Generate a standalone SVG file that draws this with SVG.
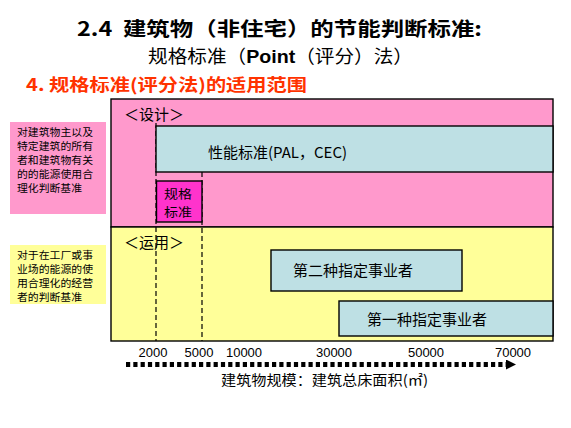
<svg xmlns="http://www.w3.org/2000/svg" width="571" height="428" viewBox="0 0 571 428">
<style>
text{font-family:"Noto Sans CJK SC","Liberation Sans",sans-serif;fill:#000}
.box{stroke:#000;stroke-width:1.4}
.pink{fill:#FF99CC}
.yel{fill:#FFFF99}
.blue{fill:#BEE0E4}
.mag{fill:#FF33CC}
.lbl{font-size:15px}
.small{font-size:10px}
.num{font-family:"Liberation Sans",Arial,sans-serif;font-size:13px;text-anchor:middle}
.dash{stroke:#000;stroke-width:1.2;stroke-dasharray:5 3;fill:none}
</style>
<defs>
<marker id="ah" markerWidth="10" markerHeight="10" refX="0" refY="5" orient="auto" markerUnits="userSpaceOnUse" viewBox="0 0 10 10">
<path d="M0,0 L10,5 L0,10 z" fill="#000"/>
</marker>
</defs>
<rect width="571" height="428" fill="#fff"/>
<g id="title">
<text x="77" y="35.5" font-size="19.5" font-weight="700" textLength="405" lengthAdjust="spacingAndGlyphs">2.4&#160;&#160;建筑物（非住宅）的节能判断标准:</text>
<text x="148" y="63" font-size="18.5" textLength="265" lengthAdjust="spacingAndGlyphs">规格标准（<tspan font-family="Liberation Sans,Arial,sans-serif" font-weight="700">Point</tspan>（评分）法）</text>
<text x="26" y="91" font-size="17" font-weight="700" style="fill:#FF3300" textLength="281" lengthAdjust="spacingAndGlyphs">4. 规格标准(评分法)的适用范围</text>
</g>
<g id="design-area">
<rect class="box pink" x="111" y="99" width="442" height="128"/>
<text class="lbl" x="124" y="120">＜设计＞</text>
</g>
<g id="operation-area">
<rect class="box yel" x="111" y="227" width="442" height="114"/>
<text class="lbl" x="124" y="248">＜运用＞</text>
</g>
<g id="connectors">
<line class="dash" x1="156" y1="123" x2="156" y2="341"/>
<line class="dash" x1="202" y1="172" x2="202" y2="341"/>
<line x1="126" y1="364.5" x2="506" y2="364.5" stroke="#000" stroke-width="5" stroke-dasharray="4.2 3.1" marker-end="url(#ah)"/>
</g>
<g id="design-note">
<rect class="pink" x="10" y="122" width="96" height="92"/>
<text class="small" x="17" y="136" textLength="76" lengthAdjust="spacingAndGlyphs">对建筑物主以及</text>
<text class="small" x="17" y="150" textLength="76" lengthAdjust="spacingAndGlyphs">特定建筑的所有</text>
<text class="small" x="17" y="164" textLength="76" lengthAdjust="spacingAndGlyphs">者和建筑物有关</text>
<text class="small" x="17" y="178" textLength="76" lengthAdjust="spacingAndGlyphs">的的能源使用合</text>
<text class="small" x="17" y="192" textLength="65" lengthAdjust="spacingAndGlyphs">理化判断基准</text>
</g>
<g id="operation-note">
<rect class="yel" x="10" y="245" width="96" height="59"/>
<text class="small" x="17" y="259" textLength="76" lengthAdjust="spacingAndGlyphs">对于在工厂或事</text>
<text class="small" x="17" y="273" textLength="76" lengthAdjust="spacingAndGlyphs">业场的能源的使</text>
<text class="small" x="17" y="287" textLength="76" lengthAdjust="spacingAndGlyphs">用合理化的经营</text>
<text class="small" x="17" y="301" textLength="65" lengthAdjust="spacingAndGlyphs">者的判断基准</text>
</g>
<g id="performance-standard">
<rect class="box blue" x="156" y="126" width="397" height="46"/>
<text class="lbl" x="208" y="158">性能标准(PAL，CEC)</text>
</g>
<g id="spec-standard">
<rect class="box mag" x="156.5" y="181" width="45.5" height="41"/>
<text x="164" y="198.5" font-size="12.5" textLength="28" lengthAdjust="spacingAndGlyphs">规格</text>
<text x="164" y="216.7" font-size="12.5" textLength="28" lengthAdjust="spacingAndGlyphs">标准</text>
</g>
<g id="type2">
<rect class="box blue" x="271" y="250" width="191" height="41"/>
<text class="lbl" x="293" y="276">第二种指定事业者</text>
</g>
<g id="type1">
<rect class="box blue" x="339" y="301" width="214" height="35"/>
<text class="lbl" x="367" y="325">第一种指定事业者</text>
</g>
<g id="axis">
<text class="num" x="153" y="357">2000</text>
<text class="num" x="199" y="357">5000</text>
<text class="num" x="244" y="357">10000</text>
<text class="num" x="334" y="357">30000</text>
<text class="num" x="426" y="357">50000</text>
<text class="num" x="513" y="357">70000</text>
<text x="221" y="385" font-size="14" textLength="207" lengthAdjust="spacingAndGlyphs">建筑物规模：建筑总床面积(㎡)</text>
</g>
</svg>
